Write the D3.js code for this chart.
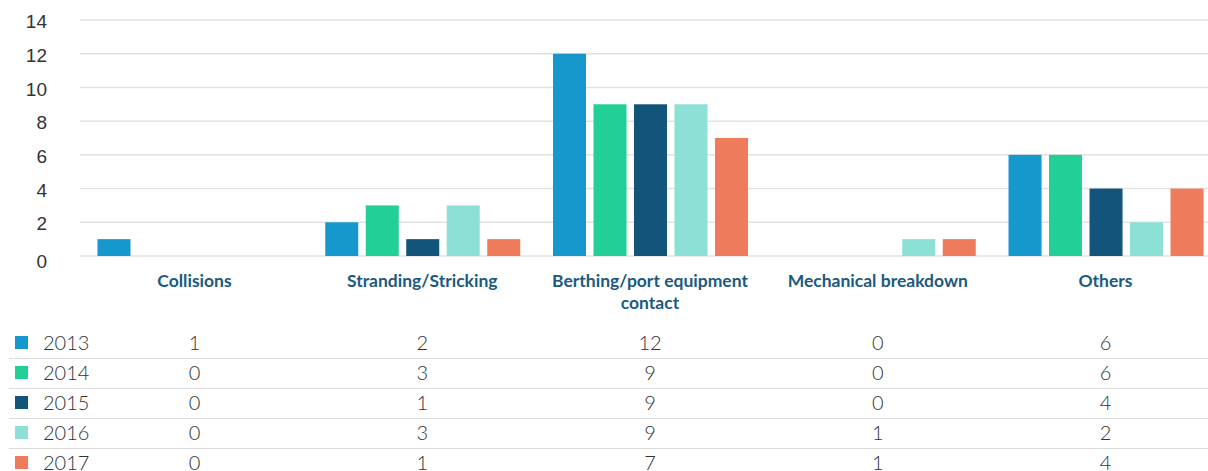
<!DOCTYPE html>
<html>
<head>
<meta charset="utf-8">
<script src="https://cdn.jsdelivr.net/npm/d3@7"></script>
<style>
  body { margin: 0; background: #fff; }
  svg { display: block; font-family: "Source Sans Pro", Lato, "Noto Sans", sans-serif; }
</style>
</head>
<body>
<script>
// categorie i lata
var categories = ["Collisions", "Stranding/Stricking", "Berthing/port equipment contact", "Mechanical breakdown", "Others"];
var years = ["2013", "2014", "2015", "2016", "2017"];
var colors = ["#1798cc", "#22cf97", "#12547a", "#8ce0d6", "#ee7b5c"];
var values = [
	[1, 2, 12, 0, 6], // 2013
	[0, 3, 9, 0, 6],  // 2014
	[0, 1, 9, 0, 4],  // 2015
	[0, 3, 9, 1, 2],  // 2016
	[0, 1, 7, 1, 4]   // 2017
];
var yTicks = [0, 2, 4, 6, 8, 10, 12, 14];

var W = 1208, H = 471;

var svg = d3.select("body")
	.append("svg")
	.attr("width", W)
	.attr("height", H);

var x = d3.scaleBand()
	.domain(categories)
	.range([80.6, 1219.4]);

var xIn = d3.scaleBand()
	.domain(years)
	.range([-97.5, 97.5])
	.paddingInner(0.185);

var y = d3.scaleLinear()
	.domain([0, 14])
	.range([256, 20]);

// linie siatki
svg.append("g")
	.selectAll("line")
	.data(yTicks)
	.join("line")
	.attr("x1", 80)
	.attr("x2", W)
	.attr("y1", function(d) { return y(d); })
	.attr("y2", function(d) { return y(d); })
	.attr("stroke", "#e2e2e4")
	.attr("stroke-width", 1.5);

// os y
var yAxis = svg.append("g")
	.attr("transform", "translate(47,0)")
	.call(d3.axisLeft(y).tickValues(yTicks).tickSize(0).tickPadding(0));
yAxis.select(".domain").remove();
yAxis.selectAll("text")
	.attr("font-size", 19)
	.attr("font-weight", 300)
	.attr("fill", "#333")
	.attr("dy", function(d) { return d === 0 ? "0.6em" : "0.4em"; });

// slupki
years.forEach(function(yr, i) {
	svg.append("g")
		.selectAll("rect")
		.data(values[i])
		.join("rect")
		.attr("x", function(d, j) { return x(categories[j]) + x.bandwidth() / 2 + 0.5 + xIn(yr); })
		.attr("width", xIn.bandwidth())
		.attr("y", function(d) { return y(d); })
		.attr("height", function(d) { return y(0) - y(d); })
		.attr("fill", colors[i]);
});

// etykiety kategorii
var labelLines = {
	"Berthing/port equipment contact": ["Berthing/port equipment", "contact"]
};
var lab = svg.append("g");
categories.forEach(function(c) {
	var lines = labelLines[c] || [c];
	var t = lab.append("text")
		.attr("text-anchor", "middle")
		.attr("font-size", 17.5)
		.attr("font-weight", 700)
		.attr("fill", "#1b5a7e");
	lines.forEach(function(l, k) {
		t.append("tspan")
			.attr("x", x(c) + x.bandwidth() / 2)
			.attr("y", 287 + k * 22)
			.text(l);
	});
});

// tabela
var rowY = d3.scaleBand()
	.domain(years)
	.range([328, 478]);

var tbl = svg.append("g");
years.forEach(function(yr, i) {
	var cy = rowY(yr) + rowY.bandwidth() / 2;
	if (i > 0) {
		tbl.append("line")
			.attr("x1", 9).attr("x2", W)
			.attr("y1", rowY(yr) + 0.5).attr("y2", rowY(yr) + 0.5)
			.attr("stroke", "#dcdcdc")
			.attr("stroke-width", 1.2);
	}
	tbl.append("rect")
		.attr("x", 15).attr("y", cy - 7)
		.attr("width", 13).attr("height", 13)
		.attr("fill", colors[i]);
	tbl.append("text")
		.attr("x", 43).attr("y", cy)
		.attr("dy", "0.36em")
		.attr("font-size", 20)
		.attr("font-weight", 300)
		.attr("fill", "#333")
		.text(yr);
	tbl.selectAll(null)
		.data(values[i])
		.join("text")
		.attr("x", function(d, j) { return x(categories[j]) + x.bandwidth() / 2; })
		.attr("y", cy)
		.attr("dy", "0.36em")
		.attr("text-anchor", "middle")
		.attr("font-size", 20)
		.attr("font-weight", 300)
		.attr("fill", "#333")
		.text(function(d) { return d; });
});
</script>
</body>
</html>
